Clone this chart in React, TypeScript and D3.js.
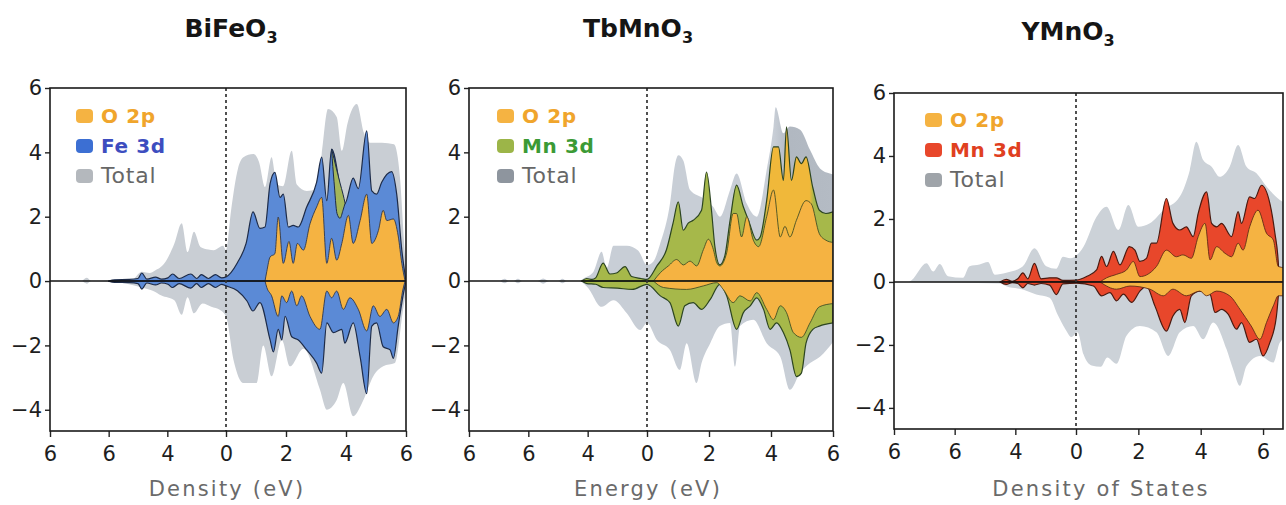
import React, { useRef, useEffect } from 'react';
import * as d3 from 'd3';

type Pt = [number, number];

const xTickValues = [-6, -4, -2, 0, 2, 4, 6];
const xTickLabels = ['6', '6', '4', '0', '2', '4', '6'];
const yTickValues = [-4, -2, 0, 2, 4, 6];

// ---- BiFeO3 ----
const bfoTotalUp: Pt[] = [[-4.9, 0], [-4.74, 0.1], [-4.6, 0], [-3.9, 0.02], [-3.2, 0.05], [-2.87, 0.29], [-2.6, 0.25], [-2.43, 0.32], [-2.1, 0.55], [-1.76, 1.17], [-1.51, 1.8], [-1.31, 0.9], [-1.09, 1.53], [-0.87, 1.06], [-0.6, 0.98], [-0.42, 0.96], [-0.1, 1.1], [0, 0.96], [0.17, 2.2], [0.4, 3.5], [0.58, 3.85], [0.91, 3.95], [1.1, 3.7], [1.3, 2.92], [1.52, 3.85], [1.69, 3.0], [1.9, 2.95], [2.19, 4.05], [2.36, 3.0], [2.69, 2.8], [3.02, 2.85], [3.19, 3.95], [3.4, 5.35], [3.69, 5.1], [3.86, 4.05], [4.05, 4.9], [4.36, 5.5], [4.6, 4.6], [4.8, 4.3], [5.2, 4.3], [5.6, 4.25], [5.8, 3.2], [5.95, 1.0], [6.05, 0]];
const bfoTotalDn: Pt[] = [[-4.9, 0], [-4.74, -0.08], [-4.6, 0], [-3.9, -0.02], [-2.87, -0.2], [-2.5, -0.3], [-2.2, -0.45], [-1.76, -0.6], [-1.51, -1.05], [-1.31, -0.5], [-1.09, -1.0], [-0.8, -0.7], [-0.5, -0.8], [-0.2, -0.9], [0, -1.1], [0.25, -2.45], [0.58, -3.17], [1.02, -3.17], [1.24, -2.0], [1.52, -2.96], [1.86, -1.83], [2.13, -2.65], [2.58, -2.1], [3.13, -3.37], [3.36, -4.0], [3.69, -3.7], [3.91, -3.17], [4.24, -4.2], [4.58, -3.7], [4.91, -2.96], [5.24, -2.65], [5.63, -2.55], [5.9, -0.9], [6.05, 0]];
const bfoFeUp: Pt[] = [[-4.0, 0], [-3.8, 0.04], [-3.3, 0.05], [-3.0, 0.08], [-2.87, 0.25], [-2.7, 0.06], [-2.4, 0.12], [-2.2, 0.06], [-1.98, 0.1], [-1.82, 0.22], [-1.6, 0.08], [-1.2, 0.22], [-1.0, 0.08], [-0.84, 0.2], [-0.6, 0.08], [-0.36, 0.2], [-0.15, 0.1], [0, 0.13], [0.38, 0.57], [0.67, 1.17], [0.9, 2.15], [1.13, 1.64], [1.3, 1.68], [1.47, 3.03], [1.63, 3.38], [1.8, 2.6], [1.91, 2.7], [2.08, 1.68], [2.24, 1.73], [2.41, 1.68], [2.69, 2.3], [3.02, 3.07], [3.19, 3.85], [3.36, 2.5], [3.52, 4.1], [3.96, 2.4], [4.24, 3.2], [4.41, 2.87], [4.69, 4.67], [4.86, 2.8], [5.02, 2.7], [5.19, 3.07], [5.52, 3.4], [5.69, 2.7], [5.86, 0.96], [6.0, 0]];
const bfoFeDn: Pt[] = [[-4.0, 0], [-3.8, -0.04], [-3.3, -0.05], [-3.0, -0.08], [-2.87, -0.25], [-2.7, -0.06], [-2.4, -0.12], [-2.2, -0.06], [-1.98, -0.1], [-1.82, -0.2], [-1.6, -0.08], [-1.2, -0.22], [-1.0, -0.08], [-0.84, -0.2], [-0.6, -0.08], [-0.36, -0.2], [-0.15, -0.1], [0, -0.15], [0.38, -0.3], [0.7, -0.62], [0.9, -0.93], [1.13, -0.67], [1.47, -1.83], [1.58, -2.2], [1.74, -1.5], [1.86, -1.83], [1.97, -1.1], [2.19, -1.73], [2.41, -1.83], [2.69, -2.14], [3.02, -2.55], [3.19, -2.86], [3.36, -1.3], [3.58, -1.6], [3.86, -1.5], [3.96, -1.93], [4.24, -1.3], [4.47, -2.35], [4.69, -3.5], [4.86, -1.4], [5.02, -1.3], [5.24, -2.04], [5.47, -2.14], [5.58, -2.4], [5.74, -1.4], [5.9, -0.46], [6.0, 0]];
const bfoOUp: Pt[] = [[1.3, 0], [1.36, 0.3], [1.47, 0.75], [1.63, 0.85], [1.74, 1.99], [1.91, 0.55], [2.1, 1.23], [2.24, 0.55], [2.38, 1.17], [2.58, 0.96], [2.8, 1.78], [3.02, 2.3], [3.19, 2.6], [3.36, 0.55], [3.52, 1.33], [3.69, 0.65], [3.86, 1.17], [4.08, 2.04], [4.24, 1.17], [4.47, 1.88], [4.69, 2.7], [4.86, 1.17], [5.08, 1.57], [5.24, 2.2], [5.36, 1.88], [5.58, 1.93], [5.74, 1.4], [5.86, 0.55], [5.97, 0]];
const bfoODn: Pt[] = [[1.3, 0], [1.36, -0.2], [1.52, -0.46], [1.74, -1.1], [1.86, -0.46], [2.02, -0.67], [2.19, -0.31], [2.36, -0.77], [2.52, -0.46], [2.8, -1.1], [3.13, -1.5], [3.36, -0.31], [3.52, -0.52], [3.69, -0.31], [3.91, -0.88], [4.13, -0.52], [4.41, -0.88], [4.69, -1.55], [4.91, -0.77], [5.13, -1.1], [5.36, -0.88], [5.58, -1.3], [5.74, -1.1], [5.9, -0.25], [5.97, 0]];
// energy, lower, upper of the small olive overlap patch
const bfoOverlap: [number, number, number][] = [[3.52, 4.05, 4.1], [3.6, 3.1, 3.8], [3.7, 2.1, 3.42], [3.8, 1.95, 3.05], [3.9, 2.2, 2.7], [3.97, 2.42, 2.42]];

// ---- TbMnO3 ----
const tmoTotalUp: Pt[] = [[-4.95, 0], [-4.8, 0.07], [-4.65, 0], [-4.5, 0], [-4.35, 0.07], [-4.2, 0], [-3.7, 0], [-3.5, 0.08], [-3.3, 0], [-3.0, 0], [-2.85, 0.07], [-2.7, 0], [-2.3, 0], [-2.1, 0.1], [-1.8, 0.3], [-1.53, 0.91], [-1.36, 0.4], [-1.13, 1.1], [-0.68, 1.1], [-0.3, 0.95], [0, 0.5], [0.2, 0.6], [0.43, 1.18], [0.74, 2.4], [0.9, 3.6], [1.01, 3.91], [1.17, 3.75], [1.39, 2.83], [1.82, 2.57], [2.14, 2.3], [2.35, 2.0], [2.68, 2.83], [2.89, 3.34], [3.22, 2.4], [3.54, 2.0], [3.86, 3.45], [4.08, 4.79], [4.15, 5.4], [4.4, 4.59], [4.61, 4.8], [4.94, 4.7], [5.26, 4.07], [5.58, 3.5], [5.9, 3.34], [6.05, 3.3]];
const tmoTotalDn: Pt[] = [[-4.95, 0], [-4.8, -0.07], [-4.65, 0], [-4.5, 0], [-4.35, -0.07], [-4.2, 0], [-3.7, 0], [-3.5, -0.08], [-3.3, 0], [-3.0, 0], [-2.85, -0.07], [-2.7, 0], [-2.3, 0], [-2.0, -0.2], [-1.53, -0.8], [-1.13, -0.6], [-0.68, -1.0], [-0.23, -1.52], [0, -1.3], [0.32, -1.83], [0.74, -2.14], [1.06, -2.76], [1.28, -1.93], [1.6, -3.17], [1.76, -2.55], [2.04, -1.93], [2.35, -1.4], [2.68, -1.3], [2.84, -2.66], [3.0, -1.4], [3.43, -1.2], [3.86, -1.93], [4.3, -2.35], [4.61, -3.38], [4.94, -2.85], [5.26, -2.55], [5.58, -2.35], [6.05, -1.83]];
const tmoMnUp: Pt[] = [[-2.2, 0], [-2.03, 0.08], [-1.85, 0.05], [-1.73, 0.1], [-1.48, 0.56], [-1.25, 0.22], [-1.03, 0.25], [-0.74, 0.45], [-0.52, 0.14], [-0.2, 0.08], [0, 0.05], [0.32, 0.47], [0.63, 0.98], [0.84, 1.8], [1.01, 2.46], [1.17, 1.58], [1.33, 1.8], [1.49, 1.89], [1.76, 2.2], [1.92, 3.39], [2.08, 2.2], [2.19, 1.07], [2.35, 0.5], [2.51, 0.78], [2.68, 1.89], [2.89, 2.98], [3.11, 2.3], [3.27, 1.9], [3.54, 1.27], [3.65, 1.37], [3.86, 2.5], [4.08, 4.17], [4.24, 4.17], [4.4, 3.13], [4.5, 4.79], [4.66, 3.13], [4.82, 3.86], [4.98, 3.65], [5.13, 3.86], [5.35, 2.9], [5.56, 2.2], [5.77, 2.1], [6.0, 2.15]];
const tmoMnDn: Pt[] = [[-2.2, 0], [-2.03, -0.08], [-1.73, -0.1], [-1.48, -0.2], [-1.0, -0.22], [-0.5, -0.26], [0, -0.1], [0.43, -0.46], [0.74, -0.67], [1.01, -1.4], [1.22, -0.77], [1.49, -0.67], [1.76, -0.88], [2.04, -0.57], [2.35, -0.1], [2.57, -0.46], [2.89, -1.5], [3.11, -0.98], [3.33, -0.77], [3.54, -0.52], [3.76, -0.88], [3.97, -1.5], [4.18, -1.3], [4.4, -1.6], [4.61, -2.14], [4.82, -2.97], [4.98, -2.86], [5.13, -1.93], [5.35, -1.5], [5.56, -1.4], [6.0, -1.3]];
const tmoOUp: Pt[] = [[0.21, 0], [0.43, 0.26], [0.69, 0.47], [0.96, 0.67], [1.17, 0.5], [1.39, 0.62], [1.6, 0.47], [1.82, 0.98], [1.98, 1.3], [2.14, 0.98], [2.25, 0.57], [2.35, 0.47], [2.57, 0.88], [2.78, 2.1], [2.89, 2.1], [3.05, 1.37], [3.22, 2.0], [3.43, 1.27], [3.6, 1.07], [3.86, 2.0], [4.08, 2.83], [4.3, 1.37], [4.45, 1.7], [4.61, 1.37], [4.82, 1.89], [5.13, 2.5], [5.3, 2.4], [5.56, 1.47], [5.77, 1.27], [6.0, 1.2]];
const tmoODn: Pt[] = [[0.21, 0], [0.53, -0.2], [1.28, -0.26], [1.82, -0.15], [2.25, -0.05], [2.46, -0.26], [2.78, -0.67], [3.0, -0.46], [3.33, -0.62], [3.54, -0.36], [3.86, -0.88], [4.08, -1.2], [4.3, -0.77], [4.5, -0.98], [4.72, -1.6], [4.98, -1.75], [5.26, -1.3], [5.56, -0.8], [6.0, -0.7]];

// ---- YMnO3 ----
const ymoTotalUp: Pt[] = [[-5.5, 0], [-5.42, 0.05], [-4.93, 0.59], [-4.71, 0.33], [-4.49, 0.57], [-4.22, 0.18], [-3.73, 0.13], [-3.51, 0.5], [-3.18, 0.55], [-2.9, 0.63], [-2.68, 0.23], [-2.3, 0.29], [-1.75, 0.5], [-1.37, 1.07], [-0.98, 0.5], [-0.65, 0.42], [-0.43, 0.8], [-0.19, 0.75], [0.24, 1.12], [0.66, 2.07], [0.98, 2.39], [1.36, 1.65], [1.68, 2.44], [2.0, 1.75], [2.37, 1.86], [2.8, 2.28], [3.33, 2.71], [3.65, 3.55], [3.86, 4.45], [4.08, 3.87], [4.35, 3.66], [4.61, 3.34], [4.93, 3.66], [5.2, 4.35], [5.47, 3.66], [5.79, 3.45], [6.11, 3.03], [6.54, 2.6], [6.7, 2.5]];
const ymoTotalDn: Pt[] = [[-5.5, 0], [-2.5, -0.05], [-2.3, -0.14], [-1.75, -0.24], [-1.31, -0.4], [-0.87, -0.5], [-0.6, -1.05], [-0.35, -1.5], [-0.15, -1.75], [0.05, -1.6], [0.24, -2.3], [0.5, -2.65], [0.8, -2.69], [1.0, -2.4], [1.3, -2.6], [1.62, -1.71], [2.05, -1.4], [2.58, -1.6], [2.96, -2.35], [3.33, -1.6], [3.76, -1.4], [4.08, -1.82], [4.4, -1.29], [4.83, -2.14], [5.04, -2.77], [5.26, -3.3], [5.47, -2.67], [5.9, -2.35], [6.33, -2.56], [6.54, -1.92], [6.7, -1.8]];
const ymoMnUp: Pt[] = [[-2.5, 0], [-2.3, 0.08], [-2.1, 0.02], [-1.92, 0.1], [-1.75, 0.29], [-1.59, 0.1], [-1.37, 0.59], [-1.15, 0.1], [-0.87, 0.13], [-0.65, 0.13], [-0.43, 0.05], [0.02, 0.06], [0.34, 0.17], [0.66, 0.38], [0.82, 0.81], [0.98, 0.49], [1.2, 0.97], [1.41, 0.54], [1.71, 1.12], [1.89, 1.01], [2.05, 0.65], [2.26, 0.75], [2.42, 1.23], [2.58, 1.23], [2.9, 2.65], [3.11, 1.86], [3.33, 1.65], [3.54, 1.75], [3.76, 1.44], [3.92, 2.18], [4.19, 2.86], [4.35, 1.86], [4.51, 1.75], [4.67, 1.86], [4.99, 1.44], [5.2, 2.23], [5.31, 1.86], [5.57, 2.7], [5.73, 2.65], [5.95, 3.07], [6.22, 2.49], [6.38, 1.55], [6.49, 0.59], [6.52, 0]];
const ymoMnDn: Pt[] = [[-2.5, 0], [-2.3, -0.08], [-2.1, -0.02], [-1.92, -0.05], [-1.75, -0.19], [-1.59, -0.05], [-1.37, -0.1], [-1.15, -0.05], [-0.87, -0.1], [-0.65, -0.4], [-0.43, -0.06], [0.02, -0.04], [0.56, -0.13], [0.82, -0.44], [1.09, -0.34], [1.3, -0.6], [1.52, -0.39], [1.79, -0.65], [2.05, -0.29], [2.26, -0.13], [2.53, -0.76], [2.9, -1.56], [3.11, -1.08], [3.33, -0.87], [3.49, -1.29], [3.7, -0.44], [3.97, -0.29], [4.3, -0.39], [4.46, -0.97], [4.67, -0.87], [4.88, -1.02], [5.15, -1.5], [5.31, -1.29], [5.57, -1.92], [5.79, -1.82], [6.0, -2.35], [6.22, -1.92], [6.43, -1.08], [6.49, -0.44], [6.52, 0]];
const ymoOUp: Pt[] = [[0.77, 0], [0.98, 0.13], [1.3, 0.24], [1.62, 0.38], [1.84, 0.65], [2.05, 0.17], [2.26, 0.22], [2.58, 0.49], [2.9, 1.01], [3.22, 0.8], [3.43, 0.86], [3.7, 0.75], [3.92, 1.44], [4.14, 1.86], [4.3, 0.7], [4.51, 1.12], [4.78, 0.91], [4.99, 0.8], [5.2, 1.23], [5.36, 1.01], [5.57, 1.75], [5.84, 2.28], [6.11, 1.55], [6.33, 1.33], [6.49, 0.49], [6.7, 0.45]];
const ymoODn: Pt[] = [[0.77, 0], [1.3, -0.23], [1.73, -0.13], [2.37, -0.23], [2.8, -0.44], [3.11, -0.23], [3.54, -0.44], [3.97, -0.29], [4.19, -0.44], [4.51, -0.29], [4.93, -0.44], [5.26, -0.87], [5.62, -1.4], [5.9, -1.82], [6.11, -1.29], [6.33, -0.76], [6.49, -0.44], [6.7, -0.44]];

const panels = [
  {
    id: 'bfo', title: 'BiFeO', titleX: 231, titleY: 37,
    xDomain: [-6, 0, 6], xRange: [50, 226, 406], yDomain: [-4.66, 6], yRange: [431, 88],
    totalUp: bfoTotalUp, totalDn: bfoTotalDn, tmUp: bfoFeUp, tmDn: bfoFeDn, oUp: bfoOUp, oDn: bfoODn,
    overlap: bfoOverlap,
    totalFill: '#c9ced4', tmFill: '#5b8ad6', tmStroke: '#1d2b48', oStroke: '#2a3246',
    tmLabel: 'Fe 3d', tmText: '#3d4dbf', tmSwatch: '#3c6fd3', totalSwatch: '#b4b8bd',
    legendX: 76, legendY: 116,
    xLabel: 'Density (eV)', xLabelX: 227,
  },
  {
    id: 'tmo', title: 'TbMnO', titleX: 638, titleY: 37,
    xDomain: [-6, 0, 6], xRange: [469, 647, 833], yDomain: [-4.66, 6], yRange: [431, 88],
    totalUp: tmoTotalUp, totalDn: tmoTotalDn, tmUp: tmoMnUp, tmDn: tmoMnDn, oUp: tmoOUp, oDn: tmoODn,
    overlap: null,
    totalFill: '#c8ced6', tmFill: '#a6b84a', tmStroke: '#2c4520', oStroke: '#3c4a22',
    tmLabel: 'Mn 3d', tmText: '#3b9a35', tmSwatch: '#9cb548', totalSwatch: '#8e959e',
    legendX: 497, legendY: 116,
    xLabel: 'Energy (eV)', xLabelX: 648,
  },
  {
    id: 'ymo', title: 'YMnO', titleX: 1068, titleY: 40,
    xDomain: [-6, 0, 6.64], xRange: [894, 1076, 1283], yDomain: [-4.67, 6], yRange: [429, 93],
    totalUp: ymoTotalUp, totalDn: ymoTotalDn, tmUp: ymoMnUp, tmDn: ymoMnDn, oUp: ymoOUp, oDn: ymoODn,
    overlap: null,
    totalFill: '#ccd2d8', tmFill: '#e8472b', tmStroke: '#4a1a10', oStroke: '#5a2a14',
    tmLabel: 'Mn 3d', tmText: '#e0401f', tmSwatch: '#e8472b', totalSwatch: '#9fa4a9',
    legendX: 925, legendY: 120,
    xLabel: 'Density of States', xLabelX: 1101,
  },
];

const oFill = '#f5b342';
const font = "'DejaVu Sans', sans-serif";

function drawPanel(root: any, p: any) {
  const x = d3.scaleLinear().domain(p.xDomain).range(p.xRange);
  const y = d3.scaleLinear().domain(p.yDomain).range(p.yRange);
  const [l, r] = [p.xRange[0], p.xRange[2]];
  const [b, t] = p.yRange;
  const g = root.append('g');
  const defs = g.append('defs');

  defs.append('clipPath').attr('id', `clip-${p.id}`)
    .append('rect').attr('x', l).attr('y', t).attr('width', r - l).attr('height', b - t);

  let tmUpFill = p.tmFill;
  let totalUpFill = p.totalFill;
  if (p.id === 'tmo') {
    // the Mn 3d band turns yellow-orange under the big 4-5 eV peaks (upper half only)
    const span = x(6) - x(-6);
    const off = (e: number) => (x(e) - x(-6)) / span;
    const grad = defs.append('linearGradient').attr('id', 'mnGrad')
      .attr('gradientUnits', 'userSpaceOnUse')
      .attr('x1', x(-6)).attr('x2', x(6)).attr('y1', 0).attr('y2', 0);
    [[0, p.tmFill], [off(3.76), p.tmFill], [off(3.9), '#f0b83a'], [off(5.24), '#f0b83a'], [off(5.38), p.tmFill], [1, p.tmFill]]
      .forEach(([o, c]) => grad.append('stop').attr('offset', o).attr('stop-color', c));
    tmUpFill = 'url(#mnGrad)';
    const gg = defs.append('linearGradient').attr('id', 'totGrad')
      .attr('gradientUnits', 'userSpaceOnUse')
      .attr('x1', x(-6)).attr('x2', x(6)).attr('y1', 0).attr('y2', 0);
    [[0, p.totalFill], [off(4.1), p.totalFill], [off(4.6), '#b1b8c1'], [1, '#b4bbc4']]
      .forEach(([o, c]) => gg.append('stop').attr('offset', o).attr('stop-color', c));
    totalUpFill = 'url(#totGrad)';
  }

  const area = d3.area<Pt>()
    .x(d => x(d[0]))
    .y0(y(0))
    .y1(d => y(d[1]))
    .curve(d3.curveMonotoneX);

  const plot = g.append('g').attr('clip-path', `url(#clip-${p.id})`);

  plot.append('path').attr('d', area(p.totalUp)).attr('fill', totalUpFill);
  plot.append('path').attr('d', area(p.totalDn)).attr('fill', p.totalFill);

  [[p.tmUp, tmUpFill], [p.tmDn, p.tmFill]].forEach(([s, fill]) => {
    plot.append('path').attr('d', area(s))
      .attr('fill', fill).attr('stroke', p.tmStroke).attr('stroke-width', 1.2)
      .attr('stroke-linejoin', 'round');
  });
  [p.oUp, p.oDn].forEach((s: Pt[]) => {
    plot.append('path').attr('d', area(s))
      .attr('fill', oFill).attr('stroke', p.oStroke).attr('stroke-width', 1)
      .attr('stroke-opacity', 0.85).attr('stroke-linejoin', 'round');
  });

  if (p.overlap) {
    const band = d3.area<[number, number, number]>()
      .x(d => x(d[0])).y0(d => y(d[1])).y1(d => y(d[2]))
      .curve(d3.curveMonotoneX);
    plot.append('path').attr('d', band(p.overlap))
      .attr('fill', '#a3b65a').attr('stroke', p.tmStroke).attr('stroke-width', 1);
  }

  // zero line and Fermi level
  g.append('line').attr('x1', l).attr('x2', r).attr('y1', y(0)).attr('y2', y(0))
    .attr('stroke', '#111').attr('stroke-width', 1.6);
  g.append('line').attr('x1', x(0)).attr('x2', x(0)).attr('y1', t).attr('y2', b)
    .attr('stroke', '#333').attr('stroke-width', 1.7).attr('stroke-dasharray', '3,3');

  // axes
  const xAxis = d3.axisBottom(x)
    .tickValues(xTickValues)
    .tickFormat((d, i) => xTickLabels[i])
    .tickSize(6).tickSizeOuter(0).tickPadding(9);
  const yAxis = d3.axisLeft(y)
    .tickValues(yTickValues)
    .tickFormat(d3.format('d'))
    .tickSize(5).tickSizeOuter(0).tickPadding(3);

  const xg = g.append('g').attr('transform', `translate(0,${b})`).call(xAxis);
  const yg = g.append('g').attr('transform', `translate(${l},0)`).call(yAxis);
  [xg, yg].forEach(a => {
    a.select('.domain').remove();
    a.selectAll('line').attr('stroke', '#222').attr('stroke-width', 1.4);
    a.selectAll('text').attr('fill', '#1e1e1e').style('font-size', '21px').style('font-family', font);
  });

  g.append('rect').attr('x', l).attr('y', t).attr('width', r - l).attr('height', b - t)
    .attr('fill', 'none').attr('stroke', '#1a1a1a').attr('stroke-width', 1.6);

  // title with subscript
  const title = g.append('text').attr('x', p.titleX).attr('y', p.titleY)
    .attr('text-anchor', 'middle').style('font-family', font)
    .style('font-size', '25px').style('font-weight', 'bold').attr('fill', '#151515');
  title.append('tspan').text(p.title);
  title.append('tspan').attr('dy', 6).style('font-size', '16px').text('3');

  g.append('text').attr('x', p.xLabelX).attr('y', 496).attr('text-anchor', 'middle')
    .style('font-family', font).style('font-size', '21px').style('letter-spacing', '2.2px')
    .attr('fill', '#6a6a6a').text(p.xLabel);

  // legend
  const items = [
    { label: 'O 2p', sw: oFill, color: '#f0a52c', bold: true },
    { label: p.tmLabel, sw: p.tmSwatch, color: p.tmText, bold: true },
    { label: 'Total', sw: p.totalSwatch, color: '#676767', bold: false },
  ];
  const lg = g.append('g').attr('transform', `translate(${p.legendX},${p.legendY})`);
  items.forEach((it, i) => {
    const row = lg.append('g').attr('transform', `translate(0,${i * 30})`);
    row.append('rect').attr('x', 0).attr('y', -7).attr('width', 17).attr('height', 14)
      .attr('rx', 4).attr('fill', it.sw);
    row.append('text').attr('x', 25).attr('y', 7)
      .style('font-family', font).style('font-size', it.bold ? '20px' : '22px')
      .style('font-weight', it.bold ? 'bold' : 'normal')
      .style('letter-spacing', it.bold ? '0.6px' : '0.8px')
      .attr('fill', it.color).text(it.label);
  });
}

const DosPanels = () => {
  const ref = useRef<SVGSVGElement | null>(null);

  useEffect(() => {
    if (!ref.current) return;
    const svg = d3.select(ref.current);
    svg.selectAll('*').remove();
    panels.forEach(p => drawPanel(svg, p));
  }, []);

  return (
    <svg ref={ref} width={1286} height={505}
      style={{ position: 'absolute', left: 0, top: 0, background: '#fff' }} />
  );
};

export default function App() {
  return <DosPanels />;
}
